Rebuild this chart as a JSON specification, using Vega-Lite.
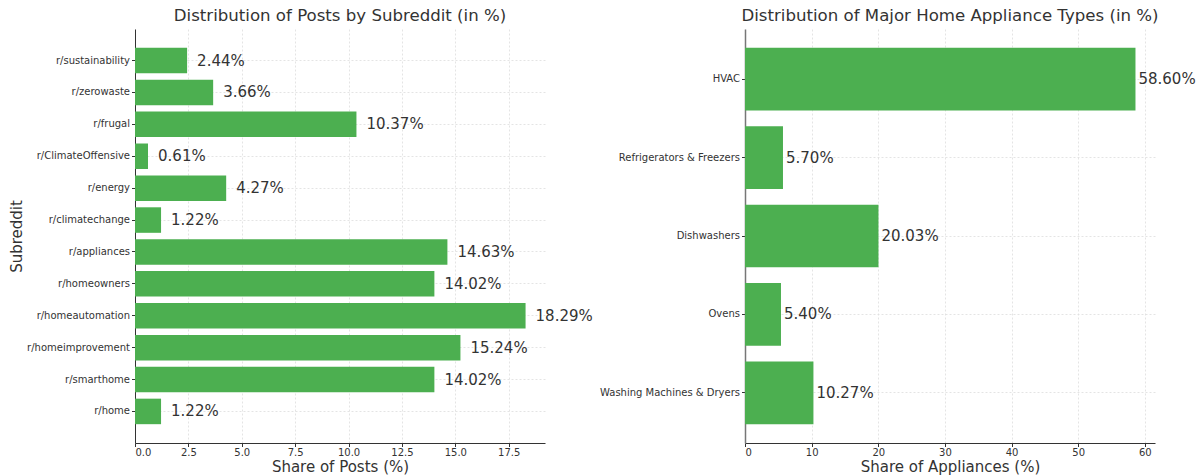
{
  "$schema": "https://vega.github.io/schema/vega-lite/v6.json",
  "padding": {"left": 9, "top": 8, "right": 5, "bottom": 2},
  "bounds": "flush",
  "spacing": 200,
  "config": {
    "font": "DejaVu Sans",
    "view": {"stroke": null},
    "title": {"fontSize": 16.6, "fontWeight": "normal", "color": "#333333", "offset": 0},
    "axis": {
      "labelFont": "DejaVu Sans",
      "titleFont": "DejaVu Sans",
      "labelFontSize": 10,
      "labelColor": "#333333",
      "titleFontSize": 15,
      "titleFontWeight": "normal",
      "titleColor": "#333333",
      "domainColor": "#333333",
      "tickColor": "#333333",
      "tickSize": 3.5,
      "gridColor": "#dddddd",
      "gridDash": [2, 2],
      "gridWidth": 0.8
    }
  },
  "hconcat": [
    {
      "width": 410,
      "height": 414,
      "title": "Distribution of Posts by Subreddit (in %)",
      "data": {"values": [
        {"subreddit": "r/sustainability", "share": 2.44, "label": "2.44%"},
        {"subreddit": "r/zerowaste", "share": 3.66, "label": "3.66%"},
        {"subreddit": "r/frugal", "share": 10.37, "label": "10.37%"},
        {"subreddit": "r/ClimateOffensive", "share": 0.61, "label": "0.61%"},
        {"subreddit": "r/energy", "share": 4.27, "label": "4.27%"},
        {"subreddit": "r/climatechange", "share": 1.22, "label": "1.22%"},
        {"subreddit": "r/appliances", "share": 14.63, "label": "14.63%"},
        {"subreddit": "r/homeowners", "share": 14.02, "label": "14.02%"},
        {"subreddit": "r/homeautomation", "share": 18.29, "label": "18.29%"},
        {"subreddit": "r/homeimprovement", "share": 15.24, "label": "15.24%"},
        {"subreddit": "r/smarthome", "share": 14.02, "label": "14.02%"},
        {"subreddit": "r/home", "share": 1.22, "label": "1.22%"}
      ]},
      "encoding": {
        "y": {
          "field": "subreddit", "type": "nominal", "sort": null,
          "scale": {"paddingInner": 0.2, "paddingOuter": 0.59},
          "axis": {"title": "Subreddit", "bandPosition": 0.5, "grid": true, "titlePadding": 2}
        },
        "x": {
          "field": "share", "type": "quantitative",
          "scale": {"domain": [0, 19.2], "nice": false, "zero": true},
          "axis": {"title": "Share of Posts (%)", "values": [0, 2.5, 5, 7.5, 10, 12.5, 15, 17.5], "format": ".1f", "grid": true, "titlePadding": 2, "labelPadding": 1}
        }
      },
      "layer": [
        {"mark": {"type": "bar", "color": "#4CAF50"}},
        {"mark": {"type": "text", "align": "left", "baseline": "middle", "dx": 10, "fontSize": 15, "color": "#333333"},
         "encoding": {"text": {"field": "label"}}}
      ]
    },
    {
      "width": 410,
      "height": 414,
      "title": "Distribution of Major Home Appliance Types (in %)",
      "data": {"values": [
        {"type": "HVAC", "share": 58.60, "label": "58.60%"},
        {"type": "Refrigerators & Freezers", "share": 5.70, "label": "5.70%"},
        {"type": "Dishwashers", "share": 20.03, "label": "20.03%"},
        {"type": "Ovens", "share": 5.40, "label": "5.40%"},
        {"type": "Washing Machines & Dryers", "share": 10.27, "label": "10.27%"}
      ]},
      "encoding": {
        "y": {
          "field": "type", "type": "nominal", "sort": null,
          "scale": {"paddingInner": 0.2, "paddingOuter": 0.24},
          "axis": {"title": null, "bandPosition": 0.5, "grid": true, "domainColor": "#777777", "domainWidth": 1.5}
        },
        "x": {
          "field": "share", "type": "quantitative",
          "scale": {"domain": [0, 61.53], "nice": false, "zero": true},
          "axis": {"title": "Share of Appliances (%)", "values": [0, 10, 20, 30, 40, 50, 60], "grid": true, "titlePadding": 2, "labelPadding": 1}
        }
      },
      "layer": [
        {"mark": {"type": "bar", "color": "#4CAF50"}},
        {"mark": {"type": "text", "align": "left", "baseline": "middle", "dx": 3, "fontSize": 15, "color": "#333333"},
         "encoding": {"text": {"field": "label"}}}
      ]
    }
  ]
}
